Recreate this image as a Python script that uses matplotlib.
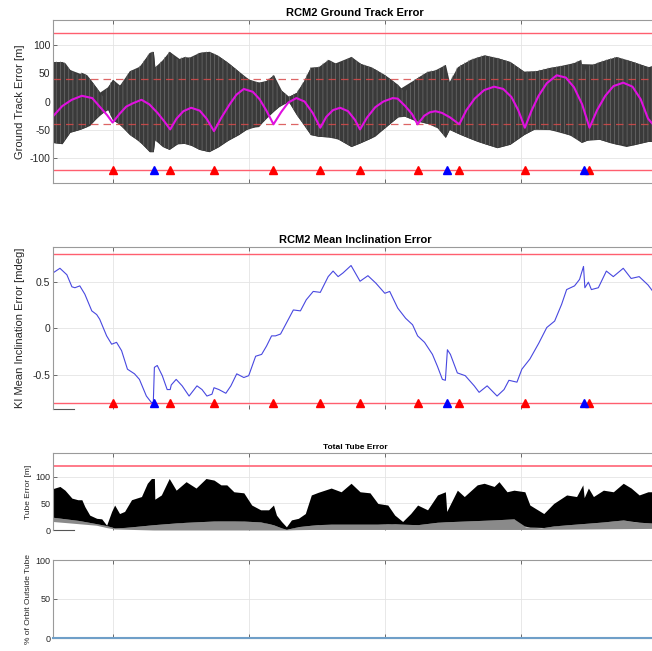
import matplotlib
matplotlib.use("Agg")
import matplotlib.pyplot as plt
import numpy as np

plt.rcParams['font.family'] = ['Liberation Sans', 'DejaVu Sans']
plt.rcParams['hatch.linewidth'] = 0.5
plt.rcParams['axes.unicode_minus'] = False

# time axis in days, grid every 10 days
x_ticks = [0, 10, 20, 30, 40]
x_lim = (-4.38, 39.7)

# maneuvers
red_man = [0, 4.23, 7.45, 11.82, 15.26, 18.18, 22.41, 25.47, 30.29, 35.04]
blue_man = [3.07, 24.60, 34.60]

# ground track error: oscillation envelope [m]
gt_up_x = [-4.38, -3.72, -3.50, -3.14, -2.63, -2.26, -1.90, -1.17, -0.73, -0.36, 0, 0.36, 0.73,
           1.24, 1.75, 2.19, 2.70, 2.99, 3.10, 3.21, 3.80, 4.16, 4.74, 5.26, 5.84, 6.35, 7.08,
           7.66, 8.39, 9.12, 9.78, 10.36, 11.09, 11.82, 12.19, 12.92, 13.50, 14.01, 14.53,
           15.11, 15.84, 16.57, 17.52, 18.03, 18.98, 20.0, 20.95, 21.46, 22.19, 23.14, 23.87,
           24.45, 24.55, 24.74, 25.33, 26.28, 27.30, 28.25, 29.20, 30.22, 30.95, 32.12, 33.58,
           34.40, 34.60, 34.82, 35.77, 37.01, 38.25, 39.34, 39.7]
gt_up = [70, 70, 68, 56, 47, 51, 47, 24, 9, 26, 39, 26, 33,
         54, 56, 68, 86, 88, 61, 61, 77, 88, 74, 79, 77, 86, 88,
         82, 70, 56, 42, 35, 33, 47, 24, 9, 16, 35, 60,
         61, 74, 65, 79, 68, 61, 47, 30, 16, 39, 53, 56,
         65, 35, 35, 61, 74, 82, 77, 70, 53, 53, 60, 65,
         74, 44, 61, 70, 79, 70, 61, 63]
gt_lo_x = [-4.38, -3.72, -3.14, -2.41, -1.68, -0.95, -0.36, 0, 0.51, 1.24, 1.97, 2.70, 2.99,
           3.10, 3.65, 4.16, 4.89, 5.62, 6.35, 7.08, 7.81, 8.54, 9.27, 10.0, 10.73, 11.31,
           11.82, 12.41, 12.92, 13.50, 14.01, 14.53, 15.11, 16.35, 17.52, 18.25, 19.27, 20.44,
           21.17, 22.19, 23.0, 23.65, 24.45, 24.74, 25.55, 26.79, 28.25, 29.20, 30.22, 31.17,
           32.63, 33.87, 34.45, 35.33, 36.50, 37.74, 39.34, 39.7]
gt_lo = [-72, -74, -54, -49, -42, -23, -14, -32, -40, -58, -70, -88, -88,
         -67, -79, -84, -72, -75, -84, -88, -79, -67, -58, -46, -44, -28,
         -17, -5, 0, -23, -40, -58, -61, -63, -79, -72, -61, -37,
         -23, -33, -38, -40, -63, -49, -58, -70, -81, -75, -58, -46,
         -51, -61, -72, -63, -72, -79, -70, -70]

# ground track error: mean (magenta)
gt_mean_x = [-4.38, -3.7, -3.0, -2.26, -1.5, -0.95, -0.4, 0,
             0.5, 1.0, 1.5, 2.12, 2.7, 3.3, 3.8, 4.23,
             4.7, 5.2, 5.77, 6.4, 6.9, 7.45,
             8.0, 8.6, 9.1, 9.64, 10.3, 10.8, 11.3, 11.82,
             12.4, 12.9, 13.5, 14.1, 14.7, 15.26,
             15.7, 16.2, 16.72, 17.3, 17.8, 18.18,
             18.7, 19.3, 19.9, 20.58, 20.95, 21.5, 22.0, 22.41,
             22.9, 23.3, 23.72, 24.2, 24.8, 25.47,
             26.0, 26.6, 27.3, 28.03, 28.7, 29.3, 29.8, 30.29,
             30.8, 31.3, 31.9, 32.63, 33.3, 33.9, 34.5, 35.04,
             35.6, 36.2, 36.8, 37.52, 38.2, 38.8, 39.34, 39.7]
gt_mean = [-26, -8, 3, 10, 6, -9, -24, -37,
           -22, -9, -3, 3, -5, -20, -35, -49,
           -30, -17, -11, -16, -30, -52,
           -28, -5, 12, 22, 17, 4, -16, -40,
           -18, -2, 6, 0, -20, -46,
           -27, -15, -11, -17, -32, -49,
           -28, -10, 0, 6, 5, -8, -22, -40,
           -25, -19, -17, -20, -28, -40,
           -15, 5, 20, 26, 22, 8, -15, -46,
           -15, 10, 32, 46, 42, 25, -5, -46,
           -15, 10, 27, 33, 26, 4, -30, -40]

# mean inclination error [mdeg]
inc_x = [-4.38, -3.87, -3.36, -2.99, -2.77, -2.41, -2.04, -1.53, -1.17, -0.95, -0.44, -0.07,
         0.29, 0.66, 1.09, 1.61, 1.97, 2.48, 2.85, 2.99, 3.07, 3.28, 3.65, 4.01, 4.23, 4.31,
         4.67, 5.11, 5.62, 6.20, 6.57, 6.93, 7.30, 7.45, 7.81, 8.32, 8.69, 9.12, 9.64, 10.0,
         10.51, 10.95, 11.31, 11.68, 11.97, 12.34, 12.92, 13.28, 13.80, 14.23, 14.74, 15.26,
         15.84, 16.20, 16.57, 16.93, 17.52, 18.18, 18.76, 19.34, 20.0, 20.36, 20.95, 21.53,
         22.04, 22.41, 22.92, 23.50, 23.87, 24.23, 24.45, 24.60, 24.82, 25.33, 25.91, 26.57,
         26.93, 27.52, 28.25, 28.76, 29.12, 29.71, 30.07, 30.66, 31.31, 31.90, 32.48, 32.99,
         33.36, 33.94, 34.31, 34.60, 34.70, 34.96, 35.18, 35.69, 36.28, 36.79, 37.52, 38.10,
         38.69, 39.34, 39.7]
inc = [0.60, 0.65, 0.58, 0.45, 0.44, 0.46, 0.37, 0.19, 0.15, 0.10, -0.08, -0.17,
       -0.15, -0.24, -0.44, -0.49, -0.55, -0.73, -0.80, -0.80, -0.42, -0.40, -0.51, -0.66,
       -0.66, -0.61, -0.55, -0.62, -0.73, -0.62, -0.66, -0.73, -0.71, -0.64, -0.66, -0.70,
       -0.62, -0.49, -0.53, -0.51, -0.30, -0.28, -0.19, -0.08, -0.08, -0.06, 0.10, 0.20,
       0.19, 0.31, 0.40, 0.39, 0.56, 0.62, 0.56, 0.60, 0.68, 0.51, 0.57, 0.49, 0.38, 0.40,
       0.22, 0.11, 0.04, -0.08, -0.15, -0.28, -0.41, -0.55, -0.56, -0.23, -0.28, -0.48,
       -0.51, -0.62, -0.69, -0.62, -0.73, -0.66, -0.56, -0.58, -0.44, -0.33, -0.16, 0.01,
       0.08, 0.26, 0.42, 0.46, 0.53, 0.67, 0.44, 0.50, 0.42, 0.44, 0.62, 0.56, 0.65, 0.54,
       0.56, 0.47, 0.40]

# total tube error [m]
tube_up_x = [-4.38, -3.87, -3.50, -2.99, -2.55, -2.26, -2.04, -1.68, -1.17, -0.80, -0.44,
             -0.07, 0.15, 0.51, 0.88, 1.39, 1.75, 2.12, 2.55, 2.85, 3.07, 3.10, 3.58, 4.16,
             4.67, 5.40, 6.13, 6.86, 7.45, 7.96, 8.39, 8.91, 9.64, 10.22, 10.88, 11.46, 11.82,
             12.04, 12.41, 12.77, 13.14, 13.65, 14.16, 14.60, 15.11, 16.06, 16.79, 17.52,
             18.18, 18.91, 19.49, 20.22, 20.73, 21.31, 21.90, 22.41, 23.14, 23.87, 24.45,
             24.55, 25.33, 25.84, 26.79, 27.30, 28.03, 28.39, 28.98, 29.49, 30.29, 30.66,
             31.68, 32.41, 33.36, 34.09, 34.55, 34.65, 34.96, 35.33, 36.06, 36.79, 37.52,
             38.10, 38.69, 39.34, 39.7]
tube_up = [78, 82, 75, 60, 57, 57, 44, 28, 22, 21, 9,
           35, 47, 31, 35, 57, 60, 63, 88, 97, 97, 58, 66, 97,
           75, 91, 79, 97, 94, 85, 85, 72, 70, 47, 38, 38, 47,
           28, 16, 6, 19, 22, 31, 66, 71, 79, 72, 88,
           72, 70, 50, 47, 28, 16, 31, 47, 38, 66, 72,
           35, 75, 63, 85, 88, 82, 91, 72, 75, 72, 47,
           31, 50, 66, 63, 85, 61, 79, 63, 75, 72, 88,
           79, 66, 72, 72]
tube_mid_x = [-4.38, -2.5, -1.2, -0.4, 0.15, 1.0, 3.0, 5.0, 7.5, 9.5, 11.0, 11.8, 12.4, 12.8,
              13.5, 14.6, 15.5, 17.5, 19.5, 20.5, 21.3, 22.4, 24.0, 26.0, 28.0, 29.5, 30.2,
              30.3, 31.5, 32.5, 34.0, 36.0, 37.5, 38.5, 39.7]
tube_mid = [24, 18, 12, 8, 4, 5, 10, 14, 17, 17, 15, 10, 4, 1,
            6, 9, 11, 11, 11, 12, 11, 10, 15, 17, 19, 21, 19,
            6, 4, 8, 11, 15, 19, 15, 13]
tube_lo_x = [-4.38, -1.2, 0, 3.0, 12.8, 14.0, 30.3, 39.7]
tube_lo = [16, 9, 2, 0, 0, 1, 1, 3]

# % of orbit outside tube
pct_x = [-4.38, 39.7]
pct = [0, 0]

W, H = 652, 651
fig = plt.figure(figsize=(W / 100, H / 100), dpi=100)


def box(l, t, r, b):
    return [l / W, 1 - b / H, (r - l) / W, (b - t) / H]


spine_c = '#9a9a9a'
txt_c = '#262626'
grid_c = '#e4e4e4'
lim_c = '#ff5f6f'


def style(ax, fs, bottom=True):
    ax.set_xlim(*x_lim)
    ax.set_xticks(x_ticks)
    ax.set_xticklabels([])
    ax.grid(True, color=grid_c, lw=0.6)
    ax.set_axisbelow(True)
    ax.tick_params(direction='in', length=3, width=0.6, color='#555555',
                   labelsize=fs, labelcolor=txt_c, top=True, pad=2)
    for s in ax.spines.values():
        s.set_color(spine_c)
        s.set_linewidth(0.8)
    ax.spines['right'].set_visible(False)
    if not bottom:
        ax.spines['bottom'].set_visible(False)
        ax.plot([0, 0.035], [0, 0], transform=ax.transAxes, color='#555555',
                lw=0.8, clip_on=False)


# ---- ground track error
ax1 = fig.add_axes(box(53, 20, 657, 183))
style(ax1, 7.5)
ax1.set_ylim(-143, 143)
ax1.set_yticks([-100, -50, 0, 50, 100])
ax1.fill_between(gt_up_x, gt_up, np.interp(gt_up_x, gt_lo_x, gt_lo), color='#3a3a3a',
                 lw=0)
ax1.fill_between(gt_lo_x, np.interp(gt_lo_x, gt_up_x, gt_up), gt_lo, color='#3a3a3a',
                 lw=0)
ax1.fill_between(gt_up_x, gt_up, np.interp(gt_up_x, gt_lo_x, gt_lo), facecolor='none',
                 edgecolor='#6e6e6e', hatch='||||', lw=0)
for v in (120, -120):
    ax1.axhline(v, color=lim_c, lw=1.0)
for v in (40, -40):
    ax1.axhline(v, color='#d84a4a', lw=0.9, ls=(0, (6, 4)), alpha=0.85)
ax1.plot(gt_mean_x, gt_mean, color='#e010e0', lw=1.5)
ax1.plot(red_man, [-120] * len(red_man), '^', color='#ff0000', ms=5.5, clip_on=False)
ax1.plot(blue_man, [-120] * len(blue_man), '^', color='#0000ff', ms=5.5, clip_on=False)
ax1.set_ylabel('Ground Track Error [m]', fontsize=8, color=txt_c, labelpad=3)
ax1.set_title('RCM2 Ground Track Error', fontsize=8, fontweight='bold', pad=3)

# ---- mean inclination error
ax2 = fig.add_axes(box(53, 247, 657, 409))
style(ax2, 7.5, bottom=False)
ax2.set_ylim(-0.87, 0.88)
ax2.set_yticks([-0.5, 0, 0.5])
ax2.set_yticklabels(['-0.5', '0', '0.5'])
for v in (0.8, -0.8):
    ax2.axhline(v, color=lim_c, lw=1.0)
ax2.plot(inc_x, inc, color='#4848e0', lw=0.8)
ax2.plot(red_man, [-0.8] * len(red_man), '^', color='#ff0000', ms=5.5, clip_on=False)
ax2.plot(blue_man, [-0.8] * len(blue_man), '^', color='#0000ff', ms=5.5, clip_on=False)
ax2.set_ylabel('KI Mean Inclination Error [mdeg]', fontsize=8, color=txt_c, labelpad=5)
ax2.set_title('RCM2 Mean Inclination Error', fontsize=8, fontweight='bold', pad=3)

# ---- total tube error
ax3 = fig.add_axes(box(53, 453, 657, 530))
style(ax3, 6.5, bottom=False)
ax3.set_ylim(0, 145)
ax3.set_yticks([0, 50, 100])
ax3.fill_between(tube_mid_x, np.interp(tube_mid_x, tube_lo_x, tube_lo), tube_mid,
                 color='#8a8a8a', lw=0)
ax3.fill_between(tube_up_x, np.interp(tube_up_x, tube_mid_x, tube_mid), tube_up,
                 color='#000000', lw=0)
ax3.axhline(120, color='#ff7080', lw=1.3)
ax3.set_ylabel('Tube Error [m]', fontsize=6, color=txt_c, labelpad=2)
ax3.set_title('Total Tube Error', fontsize=6, fontweight='bold', pad=3)

# ---- % of orbit outside tube
ax4 = fig.add_axes(box(53, 560, 657, 638))
style(ax4, 6.5)
ax4.set_ylim(0, 100)
ax4.set_yticks([0, 50, 100])
ax4.plot(pct_x, pct, color='#6f9fc8', lw=1.5, clip_on=False, zorder=4)
ax4.set_ylabel('% of Orbit Outside Tube', fontsize=6, color=txt_c, labelpad=2)

fig.savefig('out.png', dpi=100)
